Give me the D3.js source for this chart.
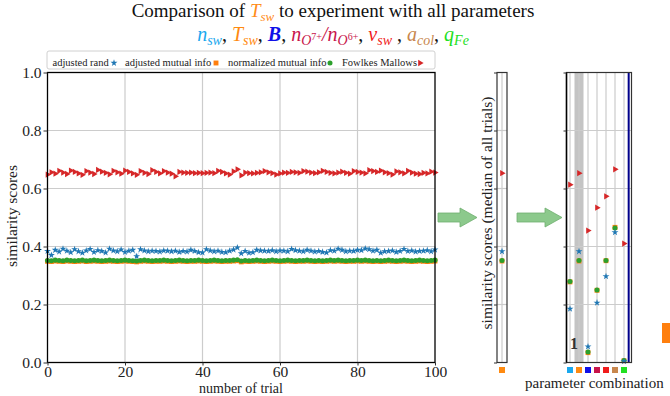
<!DOCTYPE html>
<html>
<head>
<meta charset="utf-8">
<script src="https://cdn.jsdelivr.net/npm/d3@7"></script>
<style>
  body { margin: 0; background: #fff; }
  svg, svg text { font-family: "Liberation Serif", "DejaVu Serif", serif !important; }
</style>
</head>
<body>
<script>
// similarity scores per trial (index = trial number)
var adjRand = [
  0.384,0.370,0.388,0.382,0.392,0.385,0.380,0.390,0.383,0.378,
  0.386,0.391,0.381,0.387,0.384,0.379,0.392,0.386,0.383,0.389,
  0.381,0.385,0.388,0.366,0.390,0.386,0.383,0.385,0.384,0.382,
  0.386,0.385,0.383,0.385,0.381,0.384,0.382,0.388,0.384,0.380,
  0.379,0.390,0.386,0.383,0.385,0.381,0.380,0.385,0.389,0.396,
  0.376,0.384,0.378,0.380,0.388,0.386,0.385,0.384,0.387,0.383,
  0.386,0.385,0.383,0.391,0.387,0.385,0.383,0.388,0.385,0.382,
  0.384,0.381,0.379,0.387,0.385,0.392,0.388,0.383,0.385,0.384,
  0.388,0.387,0.393,0.390,0.385,0.388,0.378,0.383,0.384,0.386,
  0.381,0.384,0.391,0.384,0.386,0.382,0.384,0.385,0.387,0.383,
  0.389];
var adjMutual = [
  0.349,0.348,0.350,0.349,0.348,0.350,0.349,0.348,0.349,0.350,
  0.348,0.349,0.350,0.349,0.348,0.349,0.350,0.349,0.348,0.349,
  0.350,0.349,0.348,0.347,0.349,0.350,0.349,0.348,0.349,0.349,
  0.350,0.349,0.348,0.349,0.350,0.349,0.348,0.349,0.349,0.350,
  0.349,0.348,0.349,0.350,0.349,0.348,0.349,0.349,0.350,0.351,
  0.347,0.349,0.348,0.349,0.350,0.349,0.348,0.349,0.350,0.349,
  0.348,0.349,0.350,0.349,0.348,0.349,0.349,0.350,0.349,0.348,
  0.349,0.348,0.349,0.350,0.349,0.350,0.349,0.348,0.349,0.349,
  0.350,0.349,0.350,0.349,0.348,0.349,0.348,0.349,0.350,0.349,
  0.348,0.349,0.350,0.349,0.348,0.349,0.350,0.349,0.348,0.349,
  0.350];
var normMutual = [
  0.352,0.351,0.353,0.352,0.351,0.353,0.352,0.351,0.352,0.353,
  0.351,0.352,0.353,0.352,0.351,0.352,0.353,0.352,0.351,0.352,
  0.353,0.352,0.351,0.350,0.352,0.353,0.352,0.351,0.352,0.352,
  0.353,0.352,0.351,0.352,0.353,0.352,0.351,0.352,0.352,0.353,
  0.352,0.351,0.352,0.353,0.352,0.351,0.352,0.352,0.353,0.354,
  0.350,0.352,0.351,0.352,0.353,0.352,0.351,0.352,0.353,0.352,
  0.351,0.352,0.353,0.352,0.351,0.352,0.352,0.353,0.352,0.351,
  0.352,0.351,0.352,0.353,0.352,0.353,0.352,0.351,0.352,0.352,
  0.353,0.352,0.353,0.352,0.351,0.352,0.351,0.352,0.353,0.352,
  0.351,0.352,0.353,0.352,0.351,0.352,0.353,0.352,0.351,0.352,
  0.353];
var fowlkes = [
  0.648,0.656,0.651,0.661,0.655,0.650,0.662,0.657,0.652,0.647,
  0.660,0.655,0.650,0.664,0.658,0.654,0.649,0.661,0.656,0.651,
  0.662,0.657,0.652,0.647,0.660,0.654,0.650,0.663,0.657,0.652,
  0.660,0.655,0.651,0.642,0.657,0.655,0.654,0.655,0.653,0.654,
  0.653,0.654,0.655,0.653,0.661,0.657,0.652,0.648,0.659,0.666,
  0.645,0.655,0.653,0.652,0.654,0.656,0.660,0.656,0.653,0.648,
  0.652,0.655,0.654,0.657,0.656,0.654,0.660,0.658,0.655,0.653,
  0.656,0.661,0.657,0.654,0.652,0.655,0.658,0.654,0.651,0.660,
  0.657,0.655,0.652,0.663,0.660,0.657,0.662,0.656,0.653,0.648,
  0.659,0.656,0.652,0.661,0.655,0.651,0.650,0.654,0.652,0.658,
  0.655];

// medians of all trials for T_sw alone
var medianSingle = { rand: 0.383, ami: 0.350, nmi: 0.352, fm: 0.653 };

// medians per parameter combination
var paramNames = ["n_sw", "T_sw", "B", "nO7/nO6", "v_sw", "a_col", "q_Fe"];
var paramColors = ["#1aa8ee", "#ff8a10", "#1010e8", "#c8144b", "#f01c1c", "#c8874e", "#22e022"];
var comboRand = [0.185, 0.383, 0.055, 0.206, 0.297, 0.449, 0.004];
var comboAmi  = [0.278, 0.350, 0.034, 0.249, 0.351, 0.466, 0.006];
var comboNmi  = [0.279, 0.352, 0.036, 0.250, 0.352, 0.464, 0.007];
var comboFm   = [0.613, 0.653, 0.455, 0.534, 0.573, 0.666, 0.410];

var yTicks = [0, 0.2, 0.4, 0.6, 0.8, 1.0];
var xTicks = [0, 20, 40, 60, 80, 100];

var colBlue = "#1f77b4", colOrange = "#ff7f0e", colGreen = "#2ca02c", colRed = "#d62728";
var serif = "Liberation Serif";

var svg = d3.select("body").append("svg").attr("width", 670).attr("height", 396)
  .attr("font-family", serif);

var yTop = 72.5, yBot = 362.5;
var y = d3.scaleLinear().domain([0, 1]).range([yBot, yTop]);

// ---------- symbols ----------
var star = d3.symbol().type(d3.symbolStar).size(15)();
var circ = d3.symbol().type(d3.symbolCircle).size(20)();
var sq = d3.symbol().type(d3.symbolSquare).size(24)();
var tri = d3.symbol().type(d3.symbolTriangle).size(17)();

function drawSeries(g, xs, vals, path, color, rot, lineOp) {
  if (lineOp) {
    g.append("path")
      .datum(vals)
      .attr("fill", "none")
      .attr("stroke", color)
      .attr("stroke-opacity", lineOp)
      .attr("stroke-width", 1)
      .attr("d", d3.line().x(function(d, i) { return xs(i); }).y(function(d) { return y(d); }));
  }
  g.selectAll(null).data(vals).enter().append("path")
    .attr("d", path)
    .attr("fill", color)
    .attr("transform", function(d, i) {
      return "translate(" + xs(i) + "," + y(d) + ")" + (rot ? " rotate(" + rot + ")" : "");
    });
}

// ---------- main panel ----------
var x = d3.scaleLinear().domain([0, 100]).range([47.5, 435]);
var main = svg.append("g");

main.selectAll(".vg").data(xTicks.slice(1, -1)).enter().append("line")
  .attr("x1", x).attr("x2", x).attr("y1", yTop).attr("y2", yBot)
  .attr("stroke", "#cccccc").attr("stroke-width", 1.2);
main.selectAll(".hg").data(yTicks.slice(1, -1)).enter().append("line")
  .attr("y1", y).attr("y2", y).attr("x1", 47.5).attr("x2", 435)
  .attr("stroke", "#cccccc").attr("stroke-width", 1.2);

drawSeries(main, x, adjMutual, sq, colOrange, 0, 0.3);
drawSeries(main, x, normMutual, circ, colGreen, 0, 0.3);
drawSeries(main, x, adjRand, star, colBlue, 0, 0.25);
drawSeries(main, x, fowlkes, tri, colRed, 90, 0.25);

main.append("rect").attr("x", 47.5).attr("y", yTop).attr("width", 435 - 47.5).attr("height", yBot - yTop)
  .attr("fill", "none").attr("stroke", "#000").attr("stroke-width", 1.3);

var ya = main.append("g").attr("transform", "translate(47.5,0)")
  .call(d3.axisLeft(y).tickValues(yTicks).tickFormat(d3.format(".1f")).tickSize(4).tickPadding(2));
var xa = main.append("g").attr("transform", "translate(0," + yBot + ")")
  .call(d3.axisBottom(x).tickValues(xTicks).tickSize(3).tickPadding(0));
[ya, xa].forEach(function(a) {
  a.attr("font-family", serif);
  a.select(".domain").remove();
  a.selectAll("text").attr("font-size", 15.5).attr("fill", "#222");
  a.selectAll("line").attr("stroke", "#333");
});

main.append("text").attr("transform", "translate(17,216) rotate(-90)")
  .attr("text-anchor", "middle").attr("font-size", 15.5).attr("fill", "#222").text("similarity scores");
main.append("text").attr("x", 241).attr("y", 392.5)
  .attr("text-anchor", "middle").attr("font-size", 14).attr("fill", "#222").text("number of trial");

// legend
var leg = svg.append("g");
leg.append("rect").attr("x", 47).attr("y", 51).attr("width", 388).attr("height", 18).attr("rx", 2)
  .attr("fill", "#fff").attr("stroke", "#d0d0d0");
var legItems = [
  { label: "adjusted rand", tx: 52.5, mx: 114, path: star, color: colBlue, rot: 0 },
  { label: "adjusted mutual info", tx: 125, mx: 216, path: sq, color: colOrange, rot: 0 },
  { label: "normalized mutual info", tx: 228, mx: 330, path: circ, color: colGreen, rot: 0 },
  { label: "Fowlkes Mallows", tx: 342, mx: 420, path: tri, color: colRed, rot: 90 }
];
legItems.forEach(function(it) {
  leg.append("text").attr("x", it.tx).attr("y", 66).attr("font-size", 10.5).attr("fill", "#222").text(it.label);
  leg.append("path").attr("d", it.path).attr("fill", it.color)
    .attr("transform", "translate(" + it.mx + ",63)" + (it.rot ? " rotate(" + it.rot + ")" : ""));
});

// ---------- title ----------
function mathLine(yBase, size, parts) {
  var t = svg.append("text").attr("x", 333).attr("y", yBase).attr("text-anchor", "middle").attr("font-size", size);
  var cur = 0;
  parts.forEach(function(p) {
    var off = p.off || 0;
    t.append("tspan").attr("dy", off - cur).text(p.s)
      .attr("fill", p.c || "#111")
      .attr("font-size", p.fs || size)
      .attr("font-style", p.i ? "italic" : "normal")
      .attr("font-weight", p.b ? "bold" : "normal");
    cur = off;
  });
}
mathLine(17, 19, [
  { s: "Comparison of " },
  { s: "T", c: "#ff8c1a", i: true },
  { s: "sw", c: "#ff8c1a", i: true, fs: 13, off: 3.5 },
  { s: " to experiment with all parameters", off: 0 }
]);
var cN = "#1aa8ee", cT = "#ff8a10", cB = "#1010e8", cO = "#c8144b", cV = "#f01c1c", cA = "#c8874e", cQ = "#22e022";
mathLine(41, 20, [
  { s: "n", c: cN, i: true },
  { s: "sw", c: cN, i: true, fs: 14, off: 4 },
  { s: ", " },
  { s: "T", c: cT, i: true },
  { s: "sw", c: cT, i: true, fs: 14, off: 4 },
  { s: ", " },
  { s: "B", c: cB, i: true, b: true },
  { s: ", " },
  { s: "n", c: cO, i: true },
  { s: "O", c: cO, i: true, fs: 14, off: 4 },
  { s: "7+", c: cO, fs: 10, off: -1 },
  { s: "/", c: cO, i: true },
  { s: "n", c: cO, i: true },
  { s: "O", c: cO, i: true, fs: 14, off: 4 },
  { s: "6+", c: cO, fs: 10, off: -1 },
  { s: ", " },
  { s: "v", c: cV, i: true },
  { s: "sw", c: cV, i: true, fs: 14, off: 4 },
  { s: " , " },
  { s: "a", c: cA, i: true },
  { s: "col", c: cA, i: true, fs: 14, off: 4 },
  { s: ", " },
  { s: "q", c: cQ, i: true },
  { s: "Fe", c: cQ, i: true, fs: 14, off: 4 }
]);

// ---------- arrows ----------
function arrow(x0, x1) {
  var xh = x1 - 17;
  var pts = [[x0, 213], [xh, 213], [xh, 208], [x1, 217.5], [xh, 227], [xh, 222], [x0, 222]];
  svg.append("polygon").attr("points", pts.map(function(p) { return p.join(","); }).join(" "))
    .attr("fill", "#8cc98c").attr("stroke", "#6fae6f").attr("stroke-width", 0.8);
}
arrow(438, 477);
arrow(517, 562);

// ---------- middle panel (single parameter median) ----------
var xm = d3.scaleLinear().domain([-0.5, 0.5]).range([497, 507]);
var mid = svg.append("g");
mid.selectAll(".hg").data(yTicks.slice(1, -1)).enter().append("line")
  .attr("y1", y).attr("y2", y).attr("x1", 497).attr("x2", 507).attr("stroke", "#ccc").attr("stroke-width", 1.2);
mid.append("line").attr("x1", xm(0)).attr("x2", xm(0)).attr("y1", yTop).attr("y2", yBot).attr("stroke", "#ccc").attr("stroke-width", 1.2);
[["ami", sq, colOrange, 0], ["nmi", circ, colGreen, 0], ["rand", star, colBlue, 0], ["fm", tri, colRed, 90]].forEach(function(s) {
  mid.append("path").attr("d", s[1]).attr("fill", s[2])
    .attr("transform", "translate(" + xm(0) + "," + y(medianSingle[s[0]]) + ")" + (s[3] ? " rotate(90)" : ""));
});
mid.append("rect").attr("x", 497).attr("y", yTop).attr("width", 10).attr("height", yBot - yTop)
  .attr("fill", "none").attr("stroke", "#333").attr("stroke-width", 1.2);
mid.append("g").attr("transform", "translate(497,0)")
  .call(d3.axisLeft(y).tickValues(yTicks).tickFormat("").tickSize(3))
  .call(function(a) { a.select(".domain").remove(); a.selectAll("line").attr("stroke", "#333"); });
mid.append("rect").attr("x", xm(0) - 3).attr("y", 367).attr("width", 6).attr("height", 6).attr("fill", cT);
mid.append("text").attr("transform", "translate(492,213) rotate(-90)")
  .attr("text-anchor", "middle").attr("font-size", 15.5).attr("fill", "#222")
  .text("similarity scores (median of all trials)");

// ---------- right panel (parameter combinations) ----------
var xr = d3.scaleLinear().domain([-3.5 / 9, 6 + 7.5 / 9]).range([566.5, 631.5]);
var rp = svg.append("g");
rp.append("rect").attr("x", xr(0.5)).attr("y", yTop).attr("width", xr(1.5) - xr(0.5)).attr("height", yBot - yTop)
  .attr("fill", "#c4c4c4");
rp.selectAll(".hg").data(yTicks.slice(1, -1)).enter().append("line")
  .attr("y1", y).attr("y2", y).attr("x1", 566.5).attr("x2", 631.5).attr("stroke", "#ccc").attr("stroke-width", 1.2);
rp.selectAll(".vg").data(paramNames).enter().append("line")
  .attr("x1", function(d, i) { return xr(i); }).attr("x2", function(d, i) { return xr(i); })
  .attr("y1", yTop).attr("y2", yBot).attr("stroke", "#ccc").attr("stroke-width", 1.2);
rp.append("line").attr("x1", xr(6.52)).attr("x2", xr(6.52)).attr("y1", yTop).attr("y2", yBot)
  .attr("stroke", "#00008b").attr("stroke-width", 2);
rp.append("text").attr("x", 574).attr("y", 349).attr("text-anchor", "middle").attr("font-size", 16)
  .attr("font-weight", "bold").attr("fill", "#333").text("1");
drawSeries(rp, xr, comboAmi, sq, colOrange, 0, 0);
drawSeries(rp, xr, comboNmi, circ, colGreen, 0, 0);
drawSeries(rp, xr, comboRand, star, colBlue, 0, 0);
drawSeries(rp, xr, comboFm, tri, colRed, 90, 0);
rp.append("rect").attr("x", 566.5).attr("y", yTop).attr("width", 65).attr("height", yBot - yTop)
  .attr("fill", "none").attr("stroke", "#333").attr("stroke-width", 1.2);
rp.append("line").attr("x1", 566.5).attr("x2", 566.5).attr("y1", yTop).attr("y2", yBot).attr("stroke", "#000").attr("stroke-width", 1.5);
rp.append("g").attr("transform", "translate(566.5,0)")
  .call(d3.axisLeft(y).tickValues(yTicks).tickFormat("").tickSize(3))
  .call(function(a) { a.select(".domain").remove(); a.selectAll("line").attr("stroke", "#333"); });
rp.selectAll(".cs").data(paramColors).enter().append("rect")
  .attr("x", function(d, i) { return xr(i) - 3; }).attr("y", 367).attr("width", 6).attr("height", 6)
  .attr("fill", function(d) { return d; });
rp.append("text").attr("x", 525).attr("y", 388).attr("font-size", 15).attr("fill", "#222").text("parameter combination");

// clipped legend patch at far right
svg.append("rect").attr("x", 662).attr("y", 323).attr("width", 10).attr("height", 20).attr("fill", colOrange);
</script>
</body>
</html>
